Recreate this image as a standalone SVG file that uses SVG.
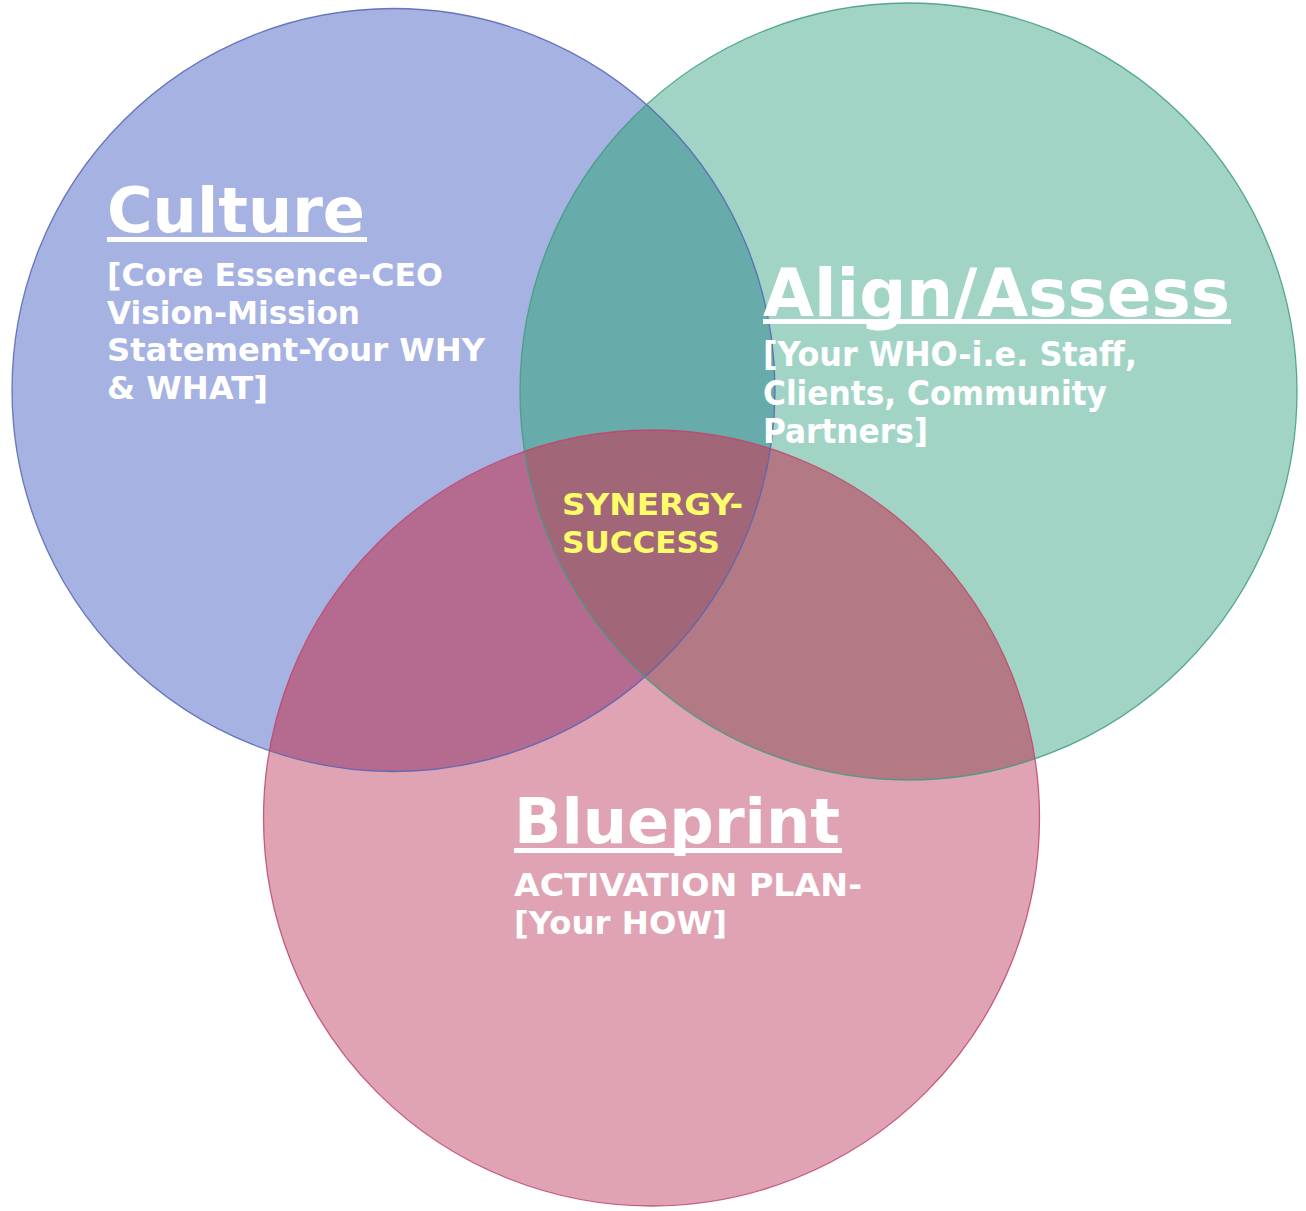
<svg xmlns="http://www.w3.org/2000/svg" width="1306" height="1211" viewBox="0 0 1306 1211">
<style>
.t{font-family:"DejaVu Sans","Verdana",sans-serif;font-weight:bold;fill:#ffffff}
.h{font-size:63px}
.b{font-size:32px}
.bc{font-family:"DejaVu Sans Condensed","DejaVu Sans",sans-serif;font-stretch:condensed;font-weight:bold;fill:#ffffff;font-size:34px}
.s{font-family:"DejaVu Sans","Verdana",sans-serif;font-weight:bold;fill:#fdfc6a;font-size:31px}
</style>
<defs>
<clipPath id="clipC"><circle cx="393.5" cy="390" r="381.5"/></clipPath>
<clipPath id="clipA"><circle cx="908.5" cy="391.5" r="388.5"/></clipPath>
</defs>
<rect width="1306" height="1211" fill="#ffffff"/>
<g id="culture">
<circle cx="393.5" cy="390" r="381.5" fill="#a6b2e1"/>
</g>
<g id="align">
<circle cx="908.5" cy="391.5" r="388.5" fill="#a2d4c6"/>
<circle cx="908.5" cy="391.5" r="388.5" fill="#67abab" clip-path="url(#clipC)"/>
</g>
<g id="blueprint">
<circle cx="651.5" cy="818" r="388" fill="#dfa3b3"/>
<circle cx="651.5" cy="818" r="388" fill="#b56b90" clip-path="url(#clipC)"/>
<circle cx="651.5" cy="818" r="388" fill="#b37984" clip-path="url(#clipA)"/>
<g clip-path="url(#clipC)"><circle cx="651.5" cy="818" r="388" fill="#a16778" clip-path="url(#clipA)"/></g>
</g>
<g id="connectors" fill="none" stroke-width="1.3">
<circle cx="393.5" cy="390" r="381.5" stroke="#5464b6" stroke-opacity="0.85"/>
<circle cx="908.5" cy="391.5" r="388.5" stroke="#3f9c7f" stroke-opacity="0.85"/>
<circle cx="651.5" cy="818" r="388" stroke="#c0456e" stroke-opacity="0.85"/>
</g>
<g id="culture-text">
<text class="t h" x="107" y="232" textLength="258" lengthAdjust="spacingAndGlyphs">Culture</text>
<rect x="107" y="237" width="260" height="5" fill="#ffffff"/>
<text class="t b" x="107" y="286" textLength="336" lengthAdjust="spacingAndGlyphs">[Core Essence-CEO</text>
<text class="t b" x="107" y="323.5" textLength="253" lengthAdjust="spacingAndGlyphs">Vision-Mission</text>
<text class="t b" x="107" y="361" textLength="378" lengthAdjust="spacingAndGlyphs">Statement-Your WHY</text>
<text class="t b" x="107" y="398.5" textLength="161" lengthAdjust="spacingAndGlyphs">&amp; WHAT]</text>
</g>
<g id="align-text">
<text class="t" font-size="65" x="763" y="316" textLength="467" lengthAdjust="spacingAndGlyphs">Align/Assess</text>
<rect x="763" y="319" width="468" height="5" fill="#ffffff"/>
<text class="bc" x="763" y="366" textLength="374" lengthAdjust="spacingAndGlyphs">[Your WHO-i.e. Staff,</text>
<text class="bc" x="763" y="404.5" textLength="344" lengthAdjust="spacingAndGlyphs">Clients, Community</text>
<text class="bc" x="763" y="443" textLength="165" lengthAdjust="spacingAndGlyphs">Partners]</text>
</g>
<g id="synergy">
<text class="s" x="562" y="515" textLength="181" lengthAdjust="spacingAndGlyphs">SYNERGY-</text>
<text class="s" x="562" y="553" textLength="158" lengthAdjust="spacingAndGlyphs">SUCCESS</text>
</g>
<g id="blueprint-text">
<text class="t h" x="514" y="843" textLength="326" lengthAdjust="spacingAndGlyphs">Blueprint</text>
<rect x="514" y="848" width="328" height="5" fill="#ffffff"/>
<text class="t b" x="514" y="896" textLength="348" lengthAdjust="spacingAndGlyphs">ACTIVATION PLAN-</text>
<text class="t b" x="514" y="934" textLength="213" lengthAdjust="spacingAndGlyphs">[Your HOW]</text>
</g>
</svg>
